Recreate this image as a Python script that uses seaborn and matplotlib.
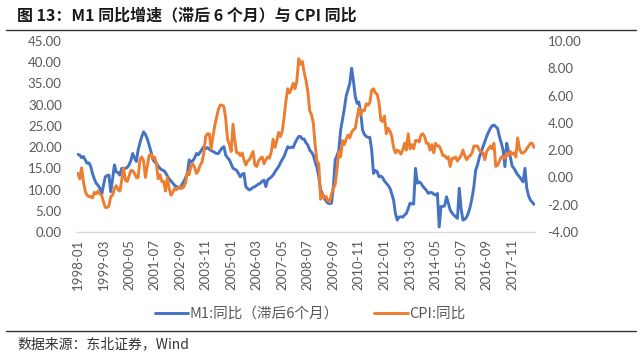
import matplotlib
matplotlib.use("Agg")
import matplotlib.pyplot as plt
from matplotlib.lines import Line2D
import pandas as pd
import seaborn as sns

# === Data: monthly, 1998-01 .. 2018-11 ===
months = pd.date_range("1998-01-01", "2018-11-01", freq="MS").strftime("%Y-%m").tolist()

# M1 YoY (%), shifted forward 6 months
m1_lag6 = [
    18.3, 18.1, 17.5, 17.8, 17.0, 16.2, 16.3, 15.5, 13.8, 12.5, 11.5, 11.0,  # 1998
    10.3, 8.8, 11.0, 13.0, 13.3, 13.4, 9.5, 12.5, 15.8, 14.2, 14.0, 13.4,    # 1999
    15.0, 14.8, 15.0, 15.2, 15.8, 16.8, 18.5, 17.5, 16.6, 19.3, 21.0, 22.5,  # 2000
    23.6, 23.0, 22.0, 20.5, 19.0, 17.2, 16.5, 16.2, 15.5, 15.0, 14.6, 14.5,  # 2001
    14.0, 13.2, 12.5, 12.0, 11.5, 11.0, 10.7, 10.5, 10.3, 11.2, 11.9, 12.8,  # 2002
    13.8, 17.0, 16.5, 16.8, 17.5, 18.5, 18.2, 18.8, 19.5, 20.1, 19.6, 19.9,  # 2003
    19.5, 19.2, 19.0, 18.7, 18.5, 18.5, 19.2, 19.8, 20.1, 18.1, 17.5, 17.0,  # 2004
    16.0, 15.0, 14.8, 14.5, 13.8, 13.0, 13.6, 13.8, 10.7, 10.2, 9.9, 10.2,   # 2005
    10.5, 10.7, 11.0, 11.3, 11.5, 12.0, 12.2, 10.7, 12.3, 12.6, 13.0, 13.4,  # 2006
    14.2, 14.8, 15.4, 16.3, 17.1, 17.8, 19.0, 20.1, 19.8, 20.0, 19.9, 21.0,  # 2007
    21.8, 22.5, 22.5, 21.9, 21.9, 21.0, 20.5, 19.3, 18.8, 18.1, 16.5, 15.2,  # 2008
    13.0, 10.0, 9.0, 7.9, 7.3, 6.8, 6.7, 6.8, 10.7, 17.0, 18.0, 19.3,        # 2009
    24.0, 26.5, 29.0, 32.0, 33.5, 35.0, 38.6, 35.6, 31.9, 30.3, 30.6, 28.0,  # 2010
    24.0, 23.0, 22.5, 22.3, 22.3, 19.3, 13.8, 14.5, 14.2, 13.0, 13.2, 12.8,  # 2011
    12.0, 11.5, 11.0, 10.3, 9.0, 7.5, 4.4, 2.8, 3.5, 3.6, 3.5, 4.0,          # 2012
    4.4, 5.5, 6.8, 6.6, 6.6, 15.0, 11.5, 11.8, 11.5, 10.8, 10.3, 9.8,        # 2013
    9.1, 9.3, 9.3, 8.9, 8.7, 9.1, 1.2, 6.0, 6.0, 6.2, 8.3, 6.8,              # 2014
    5.2, 4.5, 4.0, 3.6, 3.2, 10.3, 5.5, 2.8, 3.0, 3.5, 4.5, 6.0,             # 2015
    8.0, 10.7, 14.6, 15.8, 17.6, 18.8, 20.1, 21.3, 22.5, 23.5, 24.4, 25.0,   # 2016
    25.2, 24.8, 24.4, 22.5, 21.0, 19.3, 15.4, 20.9, 19.0, 17.6, 15.5, 15.0,  # 2017
    14.2, 13.5, 13.0, 12.4, 11.8, 15.0, 10.3, 8.5, 7.5, 7.0, 6.5,            # 2018
]

# CPI YoY (%)
cpi = [
    0.3, -0.1, 0.7, -0.3, -1.0, -1.3, -1.4, -1.4, -1.5, -1.1, -1.2, -1.0,   # 1998
    -1.2, -1.3, -1.8, -2.2, -2.2, -2.1, -1.4, -1.3, -0.8, -0.6, -0.9, -1.0, # 1999
    -0.2, 0.7, -0.2, -0.3, 0.1, 0.5, 0.5, 0.3, 0.0, 0.0, 1.3, 1.5,         # 2000
    1.2, 0.0, 0.8, 1.6, 1.7, 1.4, 1.5, 1.0, -0.1, 0.2, -0.3, -0.3,          # 2001
    -1.0, 0.0, -0.8, -1.3, -1.1, -0.8, -0.9, -0.7, -0.7, -0.8, -0.7, -0.4,  # 2002
    0.4, 0.2, 0.9, 1.0, 0.7, 0.3, 0.5, 0.9, 1.1, 1.8, 3.0, 3.2,             # 2003
    3.2, 2.1, 3.0, 3.8, 4.4, 5.0, 5.3, 5.3, 5.2, 4.3, 2.8, 2.4,             # 2004
    1.9, 3.9, 2.7, 1.8, 1.8, 1.6, 1.8, 1.3, 0.9, 1.2, 1.3, 1.6,             # 2005
    1.9, 0.9, 0.8, 1.2, 1.4, 1.5, 1.0, 1.3, 1.5, 1.4, 1.9, 2.8,             # 2006
    2.2, 2.7, 3.3, 3.0, 3.4, 4.4, 5.6, 6.5, 6.2, 6.5, 6.9, 6.5,             # 2007
    7.1, 8.7, 8.3, 8.5, 7.7, 7.1, 6.3, 4.9, 4.6, 4.0, 2.4, 1.2,             # 2008
    1.0, -1.6, -1.2, -1.5, -1.4, -1.7, -1.8, -1.2, -0.8, -0.5, 0.6, 1.9,    # 2009
    1.5, 2.7, 2.4, 2.8, 3.1, 2.9, 3.3, 3.5, 3.6, 4.4, 5.1, 4.6,             # 2010
    4.9, 4.9, 5.4, 5.3, 5.5, 6.4, 6.5, 6.2, 6.1, 5.5, 4.2, 4.1,             # 2011
    4.5, 3.2, 3.6, 3.4, 3.0, 2.2, 1.8, 2.0, 1.9, 1.7, 2.0, 2.5,             # 2012
    2.0, 3.2, 2.1, 2.4, 2.1, 2.7, 2.7, 2.6, 3.1, 3.2, 3.0, 2.5,             # 2013
    2.5, 2.0, 2.4, 1.8, 2.5, 2.3, 2.3, 2.0, 1.6, 1.6, 1.4, 1.5,             # 2014
    0.8, 1.4, 1.4, 1.5, 1.2, 1.4, 1.6, 2.0, 1.6, 1.3, 1.5, 1.6,             # 2015
    1.8, 2.3, 2.3, 2.3, 2.0, 1.9, 1.8, 1.3, 1.9, 2.1, 2.3, 2.1,             # 2016
    2.5, 0.8, 0.9, 1.2, 1.5, 1.5, 1.4, 1.8, 1.6, 1.9, 1.7, 1.8,             # 2017
    1.5, 2.9, 2.1, 1.8, 1.8, 1.9, 2.1, 2.3, 2.5, 2.5, 2.2,                  # 2018
]

left_ticks = [0, 5, 10, 15, 20, 25, 30, 35, 40, 45]
right_ticks = [-4, -2, 0, 2, 4, 6, 8, 10]
label_step = 14

BLUE = "#4472C4"
ORANGE = "#ED7D31"
TICK_COLOR = "#595959"
CJK = ["Noto Sans CJK SC", "DejaVu Sans"]

df = pd.DataFrame({"idx": range(len(months)), "month": months, "M1": m1_lag6, "CPI": cpi})

sns.set_theme(style="white")
plt.rcParams["font.family"] = ["Lato", "Noto Sans CJK SC", "DejaVu Sans"]
plt.rcParams["axes.unicode_minus"] = False

fig = plt.figure(figsize=(6.4, 3.56), dpi=100)
ax = fig.add_axes([77 / 640, 1 - 232 / 356, 458 / 640, 191 / 356])
ax2 = ax.twinx()

sns.lineplot(data=df, x="idx", y="M1", ax=ax, color=BLUE, lw=2.1)
sns.lineplot(data=df, x="idx", y="CPI", ax=ax2, color=ORANGE, lw=2.1)

# === Axes ===
ax.set_xlim(-0.5, len(months) - 0.5)
ax.set_ylim(0, 45)
ax2.set_ylim(-4, 10)
ax.set_yticks(left_ticks)
ax.set_yticklabels([f"{v:.2f}" for v in left_ticks])
ax2.set_yticks(right_ticks)
ax2.set_yticklabels([f"{v:.2f}" for v in right_ticks])
pos = list(range(0, len(months), label_step))
ax.set_xticks(pos)
ax.set_xticklabels([months[i] for i in pos], rotation=90)
ax.set_xlabel("")
ax.set_ylabel("")
ax2.set_ylabel("")

for a in (ax, ax2):
    for s in a.spines.values():
        s.set_visible(False)
ax.spines["bottom"].set_visible(True)
ax.spines["bottom"].set_color("#D9D9D9")
ax.spines["bottom"].set_linewidth(1)

ax.tick_params(axis="y", length=0, pad=11, labelsize=9.5, labelcolor=TICK_COLOR)
ax.tick_params(axis="x", length=0, pad=5, labelsize=9.5, labelcolor=TICK_COLOR)
ax2.tick_params(axis="y", length=0, pad=9, labelsize=9.5, labelcolor=TICK_COLOR)

# === Legend ===
handles = [Line2D([0], [0], color=BLUE, lw=2.1), Line2D([0], [0], color=ORANGE, lw=2.1)]
fig.legend(handles, ["M1:同比（滞后6个月）", "CPI:同比"], loc="center",
           bbox_to_anchor=(310 / 640, 1 - 314 / 356), ncol=2, frameon=False,
           handlelength=2.3, handletextpad=0.1, columnspacing=2.4,
           prop={"family": CJK, "size": 10.5}, labelcolor=TICK_COLOR)

# === Title, rules and source ===
fig.text(17 / 640, 1 - 15 / 356, "图 13：M1 同比增速（滞后 6 个月）与 CPI 同比",
         family=CJK, fontsize=11.5, fontweight="bold", color="#1a1a1a", va="center", ha="left")
fig.add_artist(Line2D([6 / 640, 636 / 640], [1 - 30 / 356] * 2, color="#333333", lw=1,
                      transform=fig.transFigure))
fig.add_artist(Line2D([6 / 640, 636 / 640], [1 - 331 / 356] * 2, color="#333333", lw=1,
                      transform=fig.transFigure))
fig.text(17 / 640, 1 - 344 / 356, "数据来源：东北证券，Wind",
         family=CJK, fontsize=10, color="#333333", va="center", ha="left")

fig.savefig("out.png", dpi=100)
plt.close(fig)
